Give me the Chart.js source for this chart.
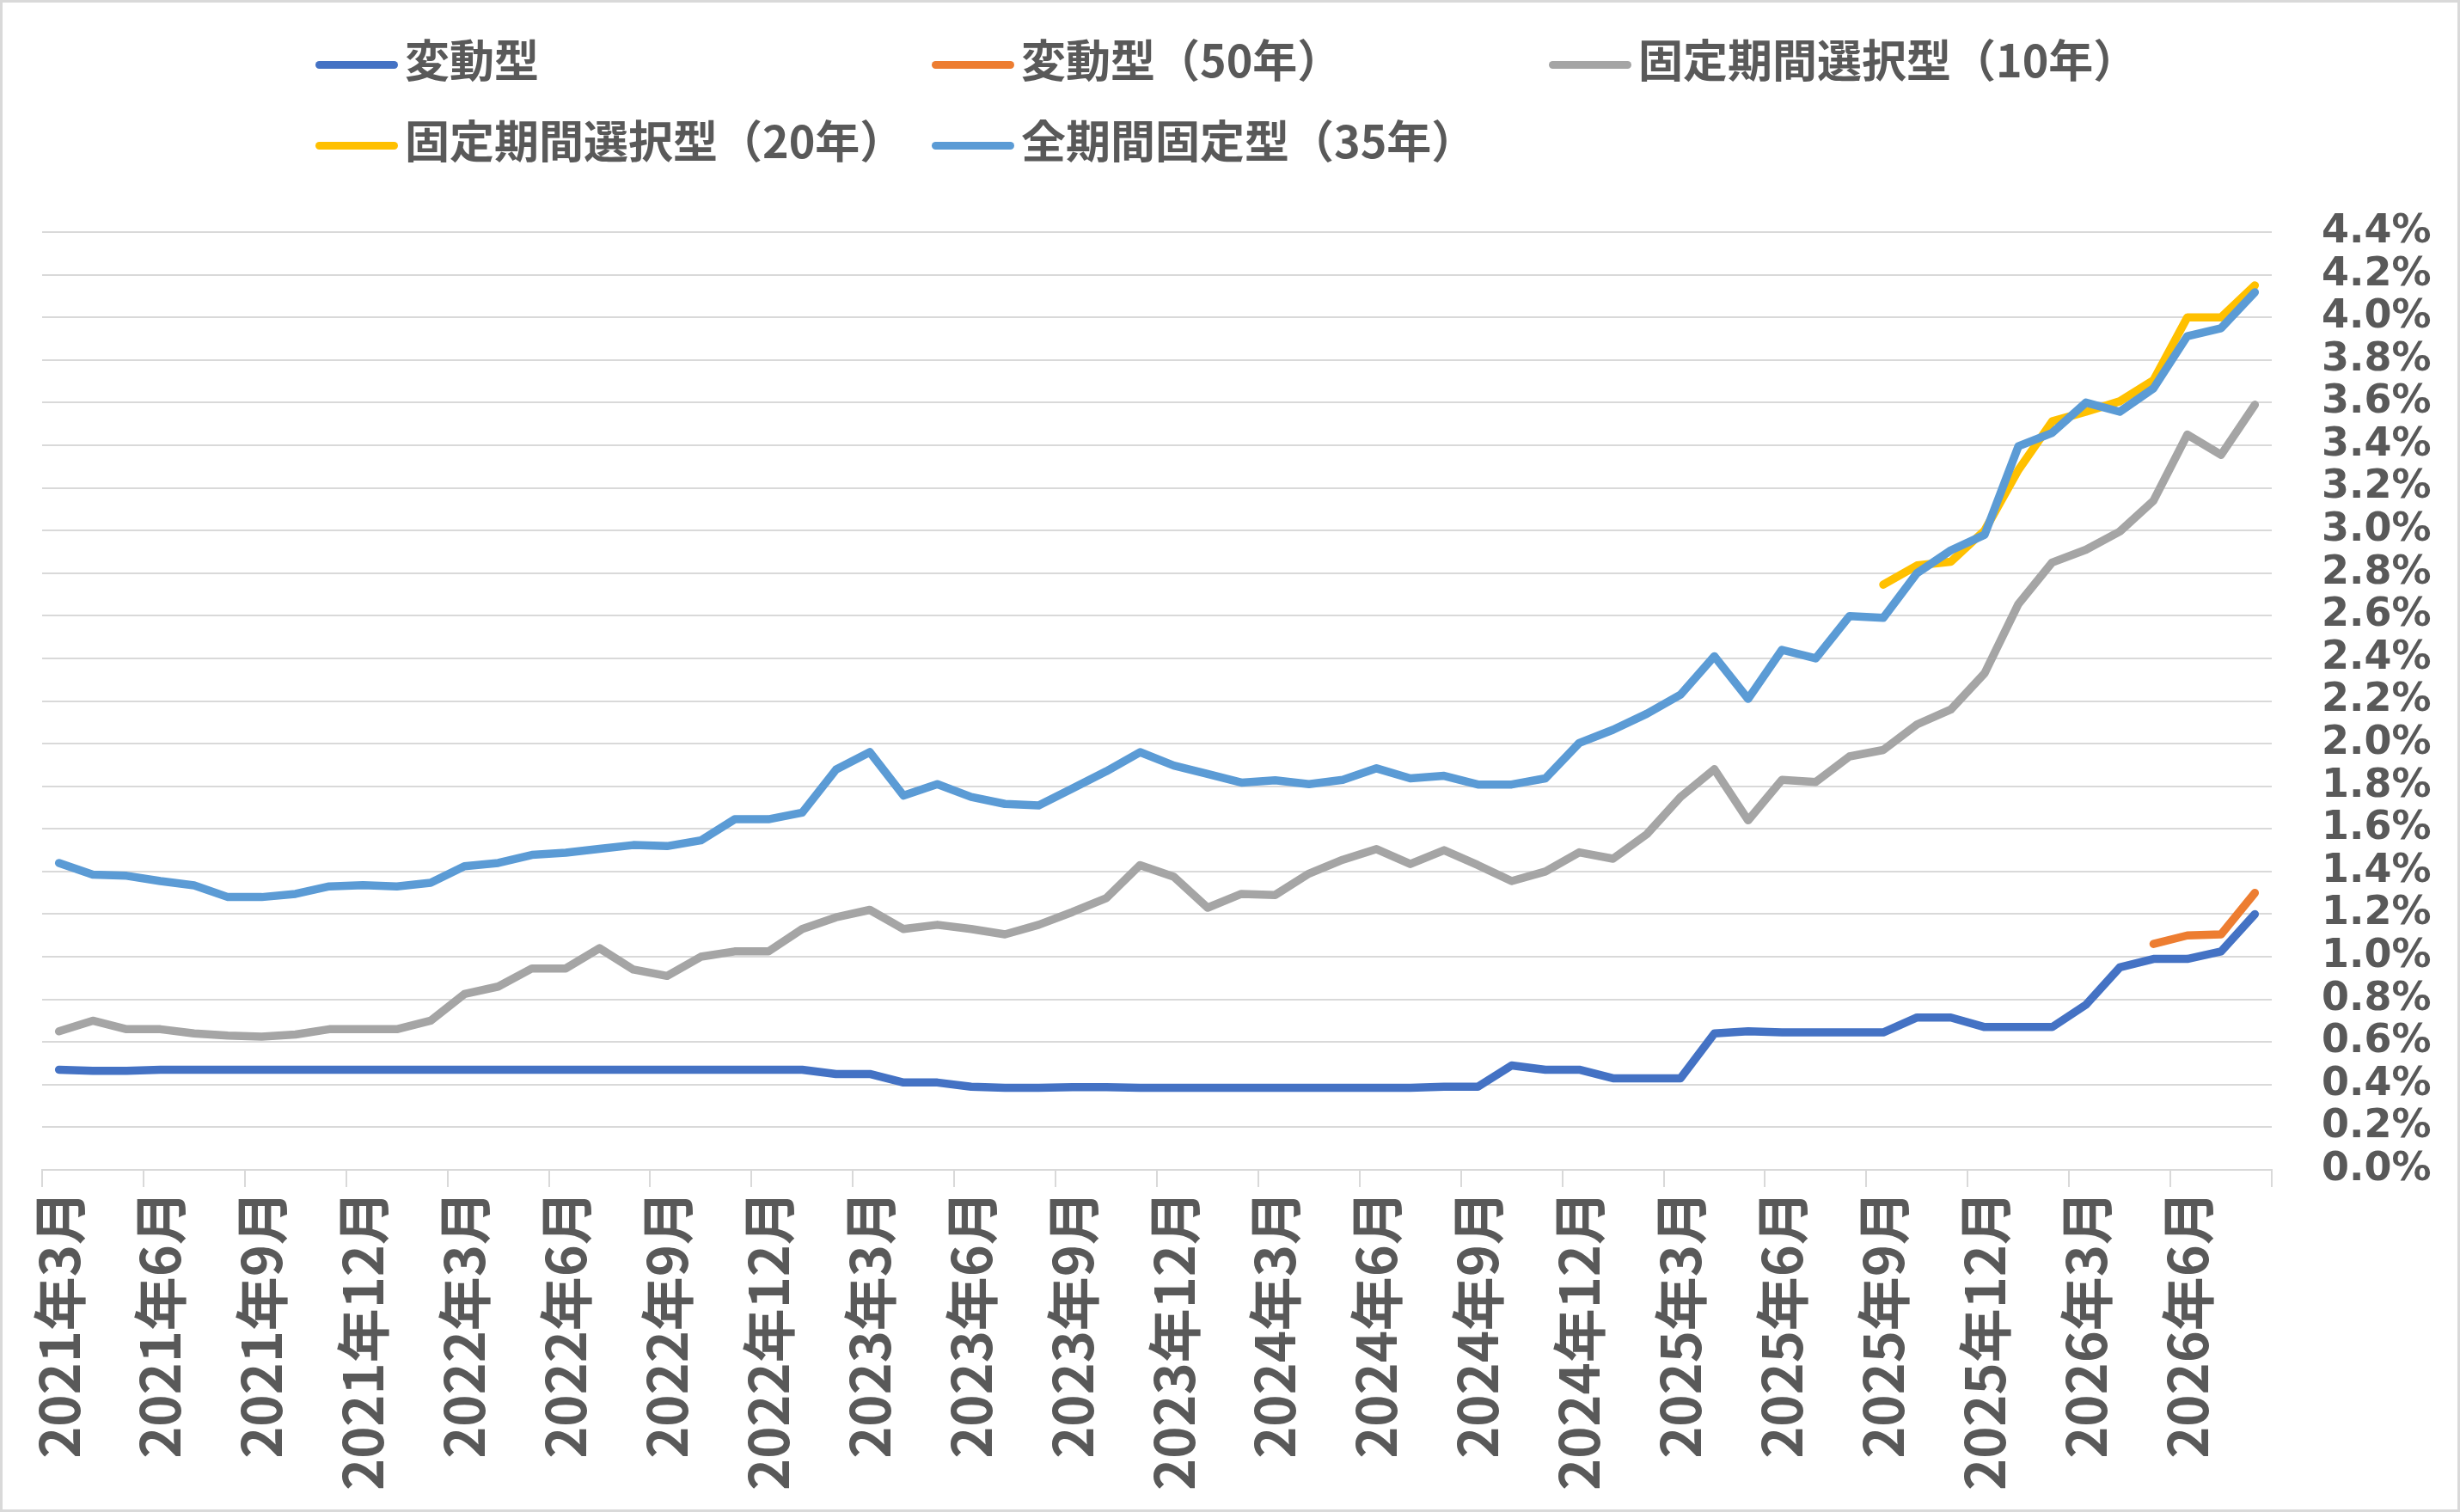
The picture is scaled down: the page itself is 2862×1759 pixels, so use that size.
<!DOCTYPE html>
<html><head><meta charset="utf-8">
<script src="https://cdn.jsdelivr.net/npm/chart.js@4.4.0/dist/chart.umd.min.js"></script>
<style>
html,body{margin:0;padding:0;background:#fff;}
#wrap{position:relative;width:2862px;height:1759px;overflow:hidden;background:#fff;}
#cv{position:absolute;left:0;top:0;width:2862px;height:1759px;}
#frame{position:absolute;left:0;top:0;width:2862px;height:1759px;box-sizing:border-box;border:3px solid #d9d9d9;pointer-events:none;}
.lgt{position:absolute;font-family:'Noto Sans CJK JP',sans-serif;font-weight:700;font-size:52px;color:#595959;white-space:nowrap;line-height:52px;}
.mk{position:absolute;height:9px;border-radius:5px;width:96px;}
</style></head><body>
<div id="wrap"><div id="cv"><canvas id="c"></canvas></div><div id="legend"></div><div id="frame"></div></div>
<script>
const months = [
 '2021年3月','2021年4月','2021年5月','2021年6月','2021年7月','2021年8月','2021年9月','2021年10月','2021年11月','2021年12月',
 '2022年1月','2022年2月','2022年3月','2022年4月','2022年5月','2022年6月','2022年7月','2022年8月','2022年9月','2022年10月','2022年11月','2022年12月',
 '2023年1月','2023年2月','2023年3月','2023年4月','2023年5月','2023年6月','2023年7月','2023年8月','2023年9月','2023年10月','2023年11月','2023年12月',
 '2024年1月','2024年2月','2024年3月','2024年4月','2024年5月','2024年6月','2024年7月','2024年8月','2024年9月','2024年10月','2024年11月','2024年12月',
 '2025年1月','2025年2月','2025年3月','2025年4月','2025年5月','2025年6月','2025年7月','2025年8月','2025年9月','2025年10月','2025年11月','2025年12月',
 '2026年1月','2026年2月','2026年3月','2026年4月','2026年5月','2026年6月','2026年7月','2026年8月'
];
const seriesNames = ['変動型','変動型（50年）','固定期間選択型（10年）','固定期間選択型（20年）','全期間固定型（35年）'];
const hendou = [
 0.47,0.465,0.465,0.47,0.47,0.47,0.47,0.47,0.47,0.47,
 0.47,0.47,0.47,0.47,0.47,0.47,0.47,0.47,0.47,0.47,
 0.47,0.47,0.47,0.45,0.45,0.41,0.41,0.39,0.385,0.385,
 0.388,0.388,0.385,0.385,0.385,0.385,0.385,0.385,0.385,0.385,
 0.385,0.39,0.39,0.49,0.47,0.47,0.43,0.43,0.43,0.64,
 0.65,0.645,0.645,0.645,0.645,0.715,0.715,0.67,0.67,0.67,
 0.775,0.95,0.99,0.99,1.025,1.20
];
const hendou50 = [
 null,null,null,null,null,null,null,null,null,null,
 null,null,null,null,null,null,null,null,null,null,
 null,null,null,null,null,null,null,null,null,null,
 null,null,null,null,null,null,null,null,null,null,
 null,null,null,null,null,null,null,null,null,null,
 null,null,null,null,null,null,null,null,null,null,
 null,null,1.06,1.10,1.105,1.30
];
const kotei10 = [
 0.65,0.70,0.66,0.66,0.64,0.63,0.625,0.635,0.66,0.66,
 0.66,0.70,0.825,0.86,0.945,0.945,1.04,0.94,0.91,1.00,
 1.025,1.025,1.13,1.185,1.22,1.13,1.15,1.13,1.105,1.15,
 1.21,1.275,1.43,1.375,1.23,1.295,1.29,1.39,1.455,1.505,
 1.435,1.50,1.43,1.355,1.40,1.49,1.46,1.575,1.75,1.88,
 1.64,1.83,1.82,1.94,1.97,2.09,2.16,2.33,2.655,2.85,
 2.91,2.995,3.14,3.45,3.355,3.59
];
const kotei20 = [
 null,null,null,null,null,null,null,null,null,null,
 null,null,null,null,null,null,null,null,null,null,
 null,null,null,null,null,null,null,null,null,null,
 null,null,null,null,null,null,null,null,null,null,
 null,null,null,null,null,null,null,null,null,null,
 null,null,null,null,2.746,2.836,2.853,3.00,3.284,3.512,
 3.557,3.606,3.705,4.00,4.00,4.15
];
const zenki35 = [
 1.44,1.385,1.38,1.355,1.335,1.28,1.28,1.295,1.33,1.336,
 1.33,1.347,1.425,1.44,1.478,1.488,1.506,1.524,1.519,1.546,
 1.645,1.645,1.676,1.878,1.96,1.756,1.81,1.75,1.717,1.71,
 1.79,1.87,1.96,1.897,1.858,1.817,1.828,1.81,1.83,1.884,
 1.837,1.849,1.808,1.808,1.837,2.003,2.065,2.14,2.23,2.41,
 2.21,2.44,2.40,2.598,2.59,2.80,2.907,2.98,3.395,3.458,
 3.60,3.557,3.667,3.912,3.949,4.118
];
const yTicks = {min:0, max:4.4, step:0.2};

const seriesData = [hendou, hendou50, kotei10, kotei20, zenki35];
const colors = ['#4472C4','#ED7D31','#A5A5A5','#FFC000','#5B9BD5'];

// HTML legend
const legendCols = [367, 1084, 1802];
const legendRows = [75, 169];
const lg = document.getElementById('legend');
seriesNames.forEach((name, k) => {
  const col = k < 3 ? k : k - 3;
  const row = k < 3 ? 0 : 1;
  const mk = document.createElement('div');
  mk.className = 'mk';
  mk.style.background = colors[k];
  mk.style.left = legendCols[col] + 'px';
  mk.style.top = (legendRows[row] - 4.5) + 'px';
  lg.appendChild(mk);
  const t = document.createElement('div');
  t.className = 'lgt';
  t.textContent = name;
  t.style.left = (legendCols[col] + 104) + 'px';
  t.style.top = (legendRows[row] - 33) + 'px';
  lg.appendChild(t);
});

const datasets = seriesNames.map((name, k) => ({
  label: name,
  data: seriesData[k],
  borderColor: colors[k],
  backgroundColor: colors[k],
  order: 5 - k,
  spanGaps: false
}));

new Chart(document.getElementById('c'), {
  type: 'line',
  data: { labels: months, datasets },
  options: {
    responsive: true,
    maintainAspectRatio: false,
    animation: false,
    devicePixelRatio: 1,
    layout: { padding: { left: 49, top: 270, right: 0, bottom: 0 } },
    plugins: { legend: { display: false }, tooltip: { enabled: false } },
    elements: {
      point: { radius: 0, hoverRadius: 0 },
      line: { borderWidth: 9.5, borderCapStyle: 'round', borderJoinStyle: 'round', tension: 0 }
    },
    scales: {
      x: {
        offset: true,
        grid: {
          offset: true, drawOnChartArea: false, drawTicks: true, tickLength: 20, lineWidth: 2,
          color: c => (c.tick === undefined || c.index % 3 === 0) ? '#d9d9d9' : 'rgba(0,0,0,0)'
        },
        border: { display: true, color: '#d9d9d9', width: 2 },
        ticks: {
          autoSkip: false, minRotation: 90, maxRotation: 90, padding: 4, color: '#595959',
          font: { family: "'Noto Sans CJK JP', sans-serif", weight: 'bold', size: 63 },
          callback: function (v, i) { return i % 3 === 0 ? this.getLabelForValue(v) : ''; }
        },
        afterFit: s => { s.height = 398; }
      },
      y: {
        position: 'right',
        min: yTicks.min, max: yTicks.max,
        grid: { color: '#d9d9d9', lineWidth: 2, drawTicks: false },
        border: { display: false },
        ticks: {
          autoSkip: false,
          stepSize: yTicks.step, padding: 58, color: '#595959',
          font: { family: "'DejaVu Sans', sans-serif", weight: 'bold', size: 46 },
          callback: v => v.toFixed(1) + '%'
        },
        afterFit: s => { s.width = 219; }
      }
    }
  }
});
</script>
</body></html>
